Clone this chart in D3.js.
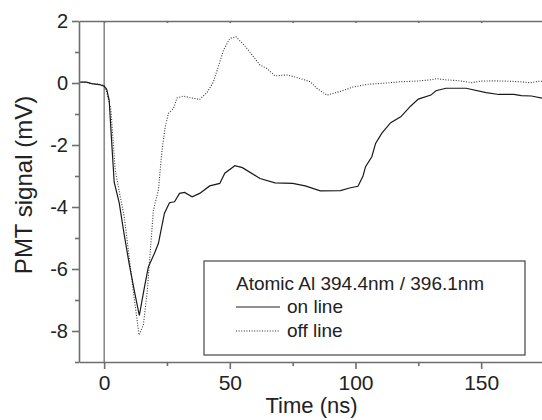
<!DOCTYPE html>
<html>
<head>
<meta charset="utf-8">
<script src="https://cdn.jsdelivr.net/npm/d3@7"></script>
<style>
    body { margin: 0; background: #fff; }
    text { font-family: "Liberation Sans", Arial, sans-serif; fill: #222; }
</style>
</head>
<body>
<div id="chart"></div>
<script>

// on line (solid) trace
let onTime   = [-10, -7, -5, -2, 0, 1, 2, 3, 4, 6, 8, 10, 12, 14, 16, 17.6, 20, 21.6, 23, 24, 26, 28, 30, 32, 35, 38, 42, 46, 48, 52, 55, 62, 68, 75, 80, 86, 94, 98, 101, 103, 104, 106.5, 108, 110.5, 114, 118, 122, 125, 130, 132, 136, 144, 152, 157, 163, 166, 170, 175];
let onSignal = [0.03, 0.03, -0.02, -0.05, -0.1, -0.2, -0.55, -1.9, -3.2, -3.87, -4.9, -5.85, -6.7, -7.5, -6.6, -5.93, -5.5, -5.17, -4.6, -4.2, -3.86, -3.83, -3.56, -3.53, -3.67, -3.56, -3.32, -3.24, -2.91, -2.67, -2.73, -3.08, -3.22, -3.24, -3.32, -3.48, -3.47, -3.38, -3.33, -3.0, -2.7, -2.38, -1.95, -1.62, -1.28, -1.09, -0.74, -0.52, -0.39, -0.25, -0.17, -0.17, -0.31, -0.37, -0.37, -0.41, -0.42, -0.5];

// off line (dotted) trace
let offTime   = [-10, -7, -4, -1, 0, 1, 2.7, 4.4, 6.4, 8, 9.7, 11.7, 13.9, 15.6, 17.2, 19.6, 21.6, 22.9, 24.3, 25.6, 27.6, 29, 31.5, 34, 38, 41, 43.5, 47.5, 50, 52.5, 56.8, 62, 64.7, 68, 72.7, 76.6, 82, 84.6, 88.6, 94, 99, 105, 111, 117.7, 124, 129.7, 132.3, 136.3, 141.6, 146.3, 149.6, 155, 160, 165.5, 169.5, 173.4, 175];
let offSignal = [0.04, 0.02, -0.03, -0.05, -0.1, -0.28, -0.87, -2.8, -3.67, -4.31, -5.44, -6.78, -8.13, -7.81, -6.68, -4.1, -3.45, -2.27, -1.41, -0.98, -0.82, -0.48, -0.42, -0.47, -0.53, -0.3, 0.04, 1.06, 1.44, 1.49, 1.12, 0.58, 0.47, 0.23, 0.26, 0.18, 0.04, -0.17, -0.39, -0.27, -0.13, -0.04, -0.01, 0.04, 0.06, 0.1, 0.14, 0.1, 0.07, 0.01, 0.06, 0.07, 0.06, 0.04, 0.01, 0.06, 0.05];

let xTicks = [0, 50, 100, 150];
let xMinorTicks = [25, 75, 125];
let yTicks = [-8, -6, -4, -2, 0, 2];
let yMinorTicks = [-9, -7, -5, -3, -1, 1];

let legendTitle = "Atomic Al 394.4nm / 396.1nm";
let seriesNames = ["on line", "off line"];

let width = 542, height = 420;
let margin = {top: 21, right: -2, bottom: 58, left: 79};

let svg = d3.select("#chart").append("svg")
    .attr("width", width)
    .attr("height", height);

let x = d3.scaleLinear()
    .domain([-10, 175])
    .range([margin.left, width - margin.right]);

let y = d3.scaleLinear()
    .domain([-9, 2])
    .range([height - margin.bottom, margin.top]);

let axisColor = "#6e6e6e";

// clip for traces
svg.append("clipPath").attr("id", "plotClip")
    .append("rect")
    .attr("x", margin.left).attr("y", margin.top)
    .attr("width", width - margin.left).attr("height", y(-9) - margin.top);

// vertical marker at t = 0
svg.append("line")
    .attr("x1", x(0)).attr("x2", x(0))
    .attr("y1", y(2)).attr("y2", y(-9))
    .attr("stroke", "#333")
    .attr("stroke-width", 0.9);

let line = d3.line()
    .x(d => x(d[0]))
    .y(d => y(d[1]));

svg.append("path")
    .datum(offTime.map((t, i) => [t, offSignal[i]]))
    .attr("clip-path", "url(#plotClip)")
    .attr("d", line)
    .attr("fill", "none")
    .attr("stroke", "#333")
    .attr("stroke-width", 1.1)
    .attr("stroke-dasharray", "1,1.6");

svg.append("path")
    .datum(onTime.map((t, i) => [t, onSignal[i]]))
    .attr("clip-path", "url(#plotClip)")
    .attr("d", line)
    .attr("fill", "none")
    .attr("stroke", "#1a1a1a")
    .attr("stroke-width", 1.2);

// bottom axis
let xAxis = svg.append("g")
    .attr("transform", "translate(0," + y(-9) + ")")
    .call(d3.axisBottom(x).tickValues(xTicks).tickSize(7).tickPadding(6).tickSizeOuter(0));
svg.append("g")
    .attr("transform", "translate(0," + y(-9) + ")")
    .call(d3.axisBottom(x).tickValues(xMinorTicks).tickSize(4).tickFormat("").tickSizeOuter(0))
    .select(".domain").remove();

// left axis
let yAxis = svg.append("g")
    .attr("transform", "translate(" + x(-10) + ",0)")
    .call(d3.axisLeft(y).tickValues(yTicks).tickSize(7).tickPadding(4).tickSizeOuter(0));
svg.append("g")
    .attr("transform", "translate(" + x(-10) + ",0)")
    .call(d3.axisLeft(y).tickValues(yMinorTicks).tickSize(4).tickFormat("").tickSizeOuter(0))
    .select(".domain").remove();

// top axis, ticks pointing inward
svg.append("g")
    .attr("transform", "translate(0," + y(2) + ")")
    .call(d3.axisBottom(x).tickValues(xTicks.concat(xMinorTicks)).tickSize(2).tickFormat("").tickSizeOuter(0));

svg.selectAll(".domain, .tick line")
    .attr("stroke", axisColor)
    .attr("stroke-width", 1.6);

xAxis.selectAll("text").style("font-size", "21px").attr("fill", "#222");
yAxis.selectAll("text").style("font-size", "20px").attr("fill", "#222")
    .text(d => d < 0 ? "-" + Math.abs(d) : d);

// axis titles
svg.append("text")
    .attr("x", (x(-10) + x(175)) / 2)
    .attr("y", 413)
    .attr("text-anchor", "middle")
    .style("font-size", "22px")
    .text("Time (ns)");

svg.append("text")
    .attr("transform", "translate(32,185) rotate(-90)")
    .attr("text-anchor", "middle")
    .style("font-size", "24px")
    .text("PMT signal (mV)");

// legend
let legend = svg.append("g").attr("transform", "translate(204,261)");
legend.append("rect")
    .attr("width", 321).attr("height", 94)
    .attr("fill", "#fff")
    .attr("stroke", "#444")
    .attr("stroke-width", 1.2);
legend.append("text")
    .attr("x", 32).attr("y", 29)
    .style("font-size", "19px")
    .text(legendTitle);
seriesNames.forEach((name, i) => {
    let ly = 46 + i * 24;
    legend.append("line")
        .attr("x1", 32).attr("x2", 76)
        .attr("y1", ly).attr("y2", ly)
        .attr("stroke", "#222")
        .attr("stroke-width", i === 0 ? 1.2 : 1)
        .attr("stroke-dasharray", i === 0 ? null : "1,1.6");
    legend.append("text")
        .attr("x", 83).attr("y", ly + 6)
        .style("font-size", "19px")
        .text(name);
});

</script>
</body>
</html>
